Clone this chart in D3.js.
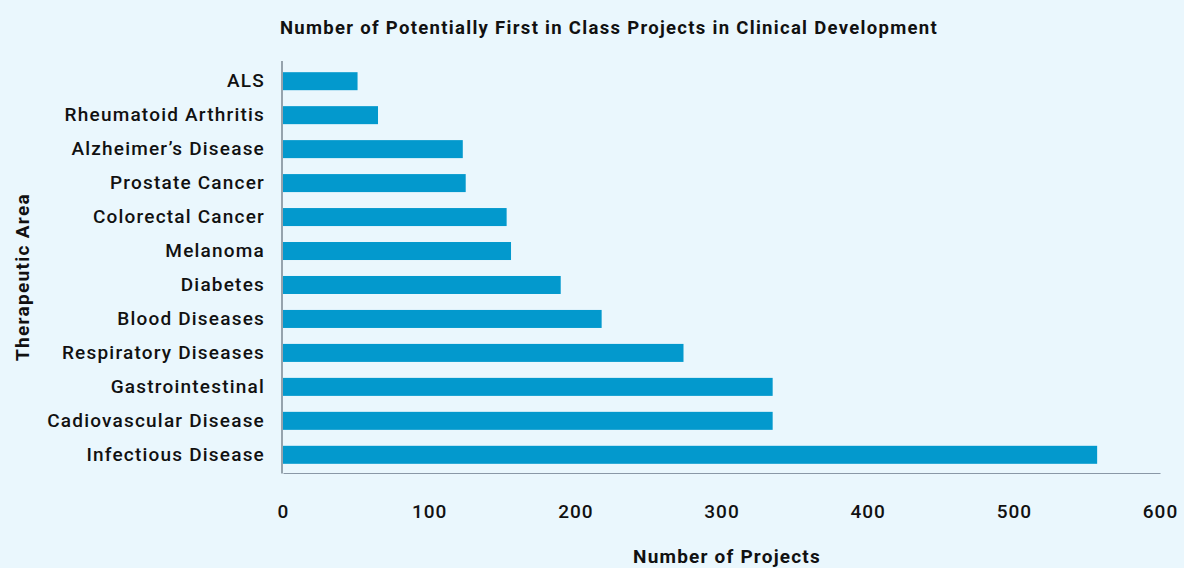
<!DOCTYPE html>
<html>
<head>
<meta charset="utf-8">
<script src="https://cdn.jsdelivr.net/npm/d3@7"></script>
<style>
  html, body { margin: 0; padding: 0; background: #eaf7fd; }
  .chart text { font-family: Roboto, "Noto Sans", sans-serif; fill: #111; }
</style>
</head>
<body>
<div class="chart"></div>
<script>
// chart data
const categories = [
  "ALS", "Rheumatoid Arthritis", "Alzheimer’s Disease", "Prostate Cancer",
  "Colorectal Cancer", "Melanoma", "Diabetes", "Blood Diseases",
  "Respiratory Diseases", "Gastrointestinal", "Cadiovascular Disease", "Infectious Disease"
];
const projects = [51, 65, 123, 125, 153, 156, 190, 218, 274, 335, 335, 557];
const xTicks = [0, 100, 200, 300, 400, 500, 600];

const W = 1184, H = 568;
const margin = { top: 61, right: 24, bottom: 95, left: 283 };

const svg = d3.select('.chart').append('svg')
  .attr('width', W)
  .attr('height', H);

svg.append('rect').attr('width', W).attr('height', H).attr('fill', '#eaf7fd');

const x = d3.scaleLinear().domain([0, 600]).range([margin.left, 1160]);
const y = d3.scaleBand()
  .domain(categories)
  .range([margin.top + 1, H - margin.bottom + 1])
  .paddingInner(0.47)
  .paddingOuter(0.3);

// bars
svg.selectAll('rect.bar')
  .data(categories)
  .enter()
  .append('rect')
  .attr('class', 'bar')
  .attr('x', x(0))
  .attr('y', d => y(d))
  .attr('width', (d, i) => x(projects[i]) - x(0))
  .attr('height', y.bandwidth())
  .attr('fill', '#0399cd');

// y axis: line + labels
const yAxis = svg.append('g')
  .attr('transform', `translate(${x(0) - 1},0)`)
  .call(d3.axisLeft(y).tickSize(0).tickPadding(17));
yAxis.select('.domain').attr('stroke', '#5d6b78').attr('stroke-width', 1.2)
  .attr('d', `M0,${margin.top}V${H - margin.bottom + 0.5}`);
yAxis.selectAll('text')
  .attr('font-size', 19).attr('font-weight', 500)
  .attr('letter-spacing', 1.2)
  .attr('fill', '#111');

// x axis
const xAxis = svg.append('g')
  .attr('transform', `translate(0,${H - margin.bottom})`)
  .call(d3.axisBottom(x).tickValues(xTicks).tickSize(0).tickPadding(32));
xAxis.select('.domain').attr('stroke', '#8a98a6').attr('stroke-width', 1.2);
xAxis.selectAll('text')
  .attr('font-size', 19).attr('font-weight', 500)
  .attr('letter-spacing', 1)
  .attr('fill', '#111');

// titles
svg.append('text')
  .attr('x', 280).attr('y', 34)
  .attr('font-size', 18.5).attr('font-weight', 700)
  .attr('letter-spacing', 1.3)
  .text('Number of Potentially First in Class Projects in Clinical Development');

svg.append('text')
  .attr('x', 727).attr('y', 563)
  .attr('text-anchor', 'middle')
  .attr('font-size', 19).attr('font-weight', 700)
  .attr('letter-spacing', 1.2)
  .text('Number of Projects');

svg.append('text')
  .attr('transform', 'translate(29,277) rotate(-90)')
  .attr('text-anchor', 'middle')
  .attr('font-size', 19).attr('font-weight', 700)
  .attr('letter-spacing', 1.3)
  .text('Therapeutic Area');
</script>
</body>
</html>
